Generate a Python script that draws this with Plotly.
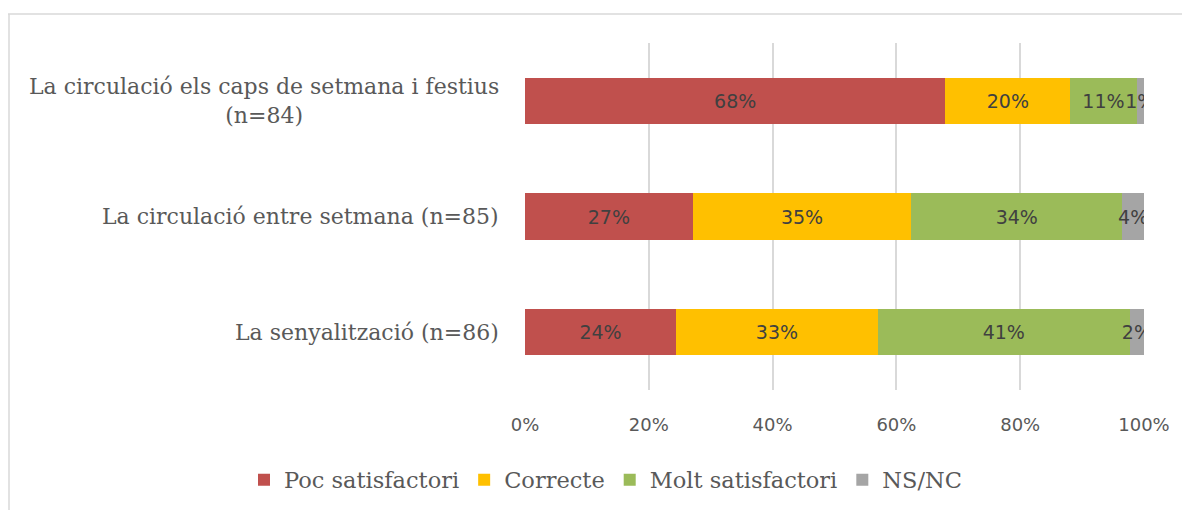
import plotly.graph_objects as go

categories = ["La circulació els caps de setmana i festius<br>(n=84)",
              "La circulació entre setmana (n=85)",
              "La senyalització (n=86)"]
series_names = ["Poc satisfactori", "Correcte", "Molt satisfactori", "NS/NC"]
poc = [67.9, 27.1, 24.4]
correcte = [20.2, 35.3, 32.6]
molt = [10.7, 34.1, 40.7]
nsnc = [1.2, 3.5, 2.3]
colors = ["#C0504D", "#FFC000", "#9BBB59", "#A5A5A5"]
x_ticks = [0, 20, 40, 60, 80, 100]
x_tick_labels = ["0%", "20%", "40%", "60%", "80%", "100%"]

# page has an 8px body offset; figure coordinates account for it
W, H = 1190, 510
ML, MR, MT, MB = 517, 54, 35, 128
PW, PH = W - ML - MR, H - MT - MB

fig = go.Figure()
for name, vals, col in zip(series_names, [poc, correcte, molt, nsnc], colors):
    fig.add_trace(go.Bar(
        y=categories, x=vals, name=name, orientation="h",
        marker=dict(color=col, line=dict(width=0)),
        width=0.4,
        text=[f"{round(v)}%" for v in vals],
        textposition="inside", insidetextanchor="middle",
        constraintext="none", textangle=0,
        textfont=dict(family="DejaVu Sans", size=19, color="#404040"),
        hoverinfo="skip",
    ))

for c in categories:
    fig.add_annotation(
        x=0, xref="paper", y=c, yref="y", text=c, showarrow=False,
        xanchor="right", xshift=-24, align="center",
        font=dict(family="DejaVu Serif", size=22, color="#595959"),
    )

# chart border (top & left edges visible)
def px_x(px):
    return (px - ML) / PW

def px_y(py):
    return (H - MB - py) / PH

fig.add_shape(type="line", xref="paper", yref="paper",
              x0=px_x(0), x1=px_x(W + 10), y0=px_y(6), y1=px_y(6),
              line=dict(color="#D9D9D9", width=1.5))
fig.add_shape(type="line", xref="paper", yref="paper",
              x0=px_x(1), x1=px_x(1), y0=px_y(6), y1=px_y(H + 10),
              line=dict(color="#D9D9D9", width=1.5))

fig.update_layout(
    width=W, height=H,
    barmode="stack",
    plot_bgcolor="white", paper_bgcolor="white",
    margin=dict(l=ML, r=MR, t=MT, b=MB),
    xaxis=dict(range=[0, 100], tickvals=x_ticks, ticktext=x_tick_labels,
               showgrid=True, gridcolor="#D9D9D9", gridwidth=2,
               zeroline=False, showline=False, ticks="",
               ticklabelstandoff=22,
               tickfont=dict(family="DejaVu Sans", size=18, color="#595959")),
    yaxis=dict(categoryorder="array", categoryarray=categories, autorange="reversed",
               showticklabels=False, showgrid=False, zeroline=False, showline=False),
    legend=dict(orientation="h", x=px_x(236), xanchor="left", xref="paper",
                y=px_y(472), yanchor="middle", yref="paper",
                font=dict(family="DejaVu Serif", size=22.5, color="#595959"),
                itemwidth=30, traceorder="normal"),
    showlegend=True,
)

fig.write_html("out.html")
